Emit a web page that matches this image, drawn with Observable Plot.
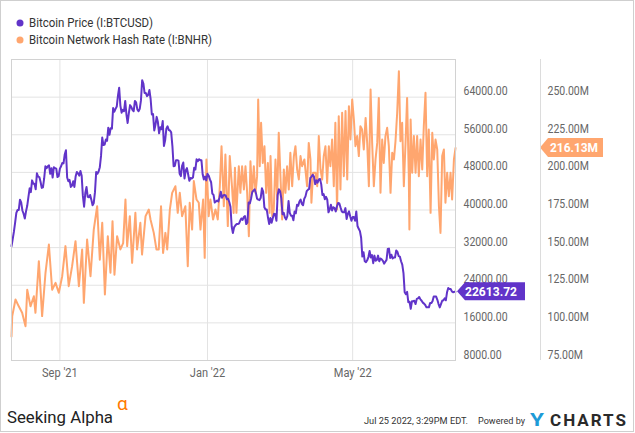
<!DOCTYPE html>
<html><head><meta charset="utf-8">
<script src="https://cdn.jsdelivr.net/npm/d3@7"></script>
<script src="https://cdn.jsdelivr.net/npm/@observablehq/plot@0.6"></script>
<style>
html,body{margin:0;padding:0;background:#fff;}
#chart{position:relative;width:635px;height:433px;overflow:hidden;}
</style>
</head><body><div id="chart"></div>
<script>
// ---- Bitcoin price (USD), daily closes, one array per month ----
const jul21=[32300,33800,35400,37300,39400,40000,40000,42200,41600];
const aug21=[39900,39200,38200,39700,40900,42800,44600,43800,46300,45600,45600,44400,47800,47100,47000,46000,44700,44800,46700,49300,48900,49300,49500,47700,48900,46900,49100,48900,48800,47000,47200];
const sep21=[48800,49300,50000,49900,51800,52700,46900,46100,46400,44900,45200,46100,44900,47100,48100,47800,47300,48300,47300,43000,40700,43600,44900,42800,42700,43200,42200,41000,41500,43800];
const oct21=[48100,47700,48200,49100,51500,55400,53800,53900,55000,54700,57500,56000,57400,57300,61700,60900,61500,62000,64300,66000,62200,60700,61300,61000,63200,60300,58500,60600,62300,61900,61300];
const nov21=[61000,63200,62900,61400,61000,61500,63300,67600,66900,64900,64900,64200,64500,65500,63600,60300,60400,56900,58100,59800,58700,56300,57600,57200,58900,53600,54800,57300,57800,57000];
const dec21=[56900,56500,53600,49300,49400,50600,50600,50500,47700,47200,49400,50100,46700,48400,48900,47600,46200,46800,46700,46900,49000,48600,50800,50400,50800,50600,50600,47600,46500,47100,46300];
const jan22=[47700,47300,46500,45900,43500,43200,41600,41800,42000,41800,42700,43900,42600,43100,43200,43100,42300,42400,41700,40700,36500,35100,36300,36700,37000,37000,37100,37700,38200,37900,38500];
const feb22=[38700,37000,37300,41600,41400,42400,43800,44100,44400,43600,42400,42200,42100,42600,44600,43900,40600,40100,40100,38400,37000,38300,37300,38300,39200,39100,37700,43200];
const mar22=[44400,44000,42500,39100,39400,38400,38000,38700,41900,39400,38800,38800,37800,39700,39300,41100,40900,41800,42200,41300,41000,42400,42900,44000,44300,44500,46800,47100,47500,47100,45500];
const apr22=[46300,45800,46500,46600,45500,43200,43400,42300,42800,42200,39500,40100,41100,39900,40600,40400,39700,40800,41500,41400,40500,39700,39500,39500,40400,38100,39200,39700,38600,37700];
const may22=[38500,38500,37700,39700,36600,36000,35500,34100,30100,31000,29100,28900,29300,30000,31300,29900,30400,28700,30300,29200,29400,30300,29100,29700,29500,29200,28600,29000,29400,31700,31800];
const jun22=[29800,30500,29700,29900,29900,31400,31100,30200,30100,29100,28400,26600,22500,22100,22600,20400,20500,19000,20600,20600,20700,20000,21100,21200,21500,21000,20700,20300,20100,19800];
const jul22=[19300,19300,19300,20200,20200,20600,21600,21600,21600,20900,20000,19300,20000,20700,20800,21200,20800,22500,23400,23200,23200,22700,22500,22600,22613.72];
const priceMonths=[["2021-07-23",jul21],["2021-08-01",aug21],["2021-09-01",sep21],["2021-10-01",oct21],["2021-11-01",nov21],["2021-12-01",dec21],["2022-01-01",jan22],["2022-02-01",feb22],["2022-03-01",mar22],["2022-04-01",apr22],["2022-05-01",may22],["2022-06-01",jun22],["2022-07-01",jul22]];

// ---- Bitcoin network hash rate (M), sampled: days after 2021-07-23, value ----
const hashStart="2021-07-23";
const hashDay=[0,0.6,3.3,6.0,8.8,11.6,13.0,15.7,18.5,19.8,22.6,25.3,28.1,30.9,33.6,36.4,39.1,41.9,44.6,47.3,50.1,52.9,55.7,58.4,59.8,62.5,65.3,68.0,70.8,73.0,75.0,77.2,79.6,81.8,83.5,85.1,87.3,90.0,92.3,94.2,
95.6,97.8,99.7,102.4,103.8,106.5,107.9,110.8,113.5,114.9,117.6,119.8,121.7,123.6,125.3,127.2,128.7,130.9,132.8,135.5,137.4,139.1,141.0,143.7,145.7,147.3,149.3,150.7,152.9,154.8,156.2,158.4,159.7,161.1,163.0,164.4,166.6,168.6,170.5,172.2,173.6,175.5,176.8,178.8,180.4,182.3,183.6,184.7,
185.9,187.9,189.2,190.6,192.1,193.4,194.8,196.2,197.5,198.9,200.3,201.7,203.0,203.9,205.2,206.3,207.7,209.1,210.5,211.9,213.3,214.1,215.5,216.8,218.2,219.6,220.9,222.3,223.7,225.1,226.4,227.8,229.2,230.5,232.0,233.4,234.7,236.1,237.5,238.9,240.2,242.1,244.3,245.7,247.1,247.9,249.3,251.3,252.7,254.0,255.4,256.8,258.1,259.5,260.9,262.3,263.6,265.0,266.4,267.7,269.1,270.5,271.9,273.3,274.7,
276.1,277.5,278.9,280.2,281.6,283.0,284.3,285.7,287.1,288.4,289.8,291.2,292.7,294.0,295.4,296.8,298.1,299.5,300.9,302.3,303.6,305.0,306.4,307.7,309.1,310.5,311.9,313.3,314.7,316.1,317.4,318.8,320.2,321.5,322.9,324.3,325.7,327.0,328.4,328.9,329.9,331.2,332.6,334.0,335.3,336.7,338.1,339.5,340.8,342.2,343.6,344.9,346.4,347.8,349.1,350.5,351.9,353.3,354.6,356.0,357.4,358.7,360.1,361.5,362.9,364.2,365.7,367];
const hashVal=[91,104.5,115.5,111,106.7,97.8,122,111,117.7,106.7,141,104.5,133.3,152,122,126.6,120,131,151,124.4,137.7,154.3,124.4,148.8,113.3,155.4,131,162,177.5,142,166.5,118.9,157.6,133.3,167.6,132,157.6,148.8,153,182,
151,170.9,139.9,173.1,148.8,166.5,145.4,170.9,175.3,168.7,159.8,148.8,148.8,177.5,146.5,159.8,148.8,175.3,186.4,190.8,173.1,186.4,170.9,177.5,137.7,179.8,162,194.2,182,179.8,162,182,143.2,208.6,170.9,182,168.7,175.3,168.7,190.8,217.4,177.5,211.9,164.3,210.8,190,173,203,
173.1,204.1,186.4,204.1,188.6,204.1,186.4,157.6,207.4,186.4,204.1,186.4,197.5,248.4,204.1,232.9,206.3,217.4,186.4,206.3,173.1,210.8,170.9,175.3,208.6,182,226.3,197.5,168.7,201.9,186.4,204.1,188.6,213,190.8,210.8,217.4,201.9,195.3,210.8,204.1,208.6,190.8,219.6,208.6,179.8,199.7,199.7,190.8,224.1,201.9,195.3,210.8,217.4,193,217.4,204.1,221.8,190.8,232.9,175.3,237.3,188.6,239.6,197.5,
240.7,195.3,244,221.8,248.4,235.1,217.4,224.1,210.8,230.7,228.5,215.2,236.2,219.6,190.8,255.1,219.6,190.8,208.6,219.6,249.5,186.4,221.8,206.3,224.1,229.6,217.4,186.4,213,208.6,220.7,239.6,267.2,220.7,232.9,190.8,219.6,249.5,197.5,162,235.1,199.7,224.1,199.7,224.1,197.5,221.8,201.9,230.7,252.9,197.5,228.5,173.1,226.3,208.6,221.8,215.2,177.5,159.8,210.8,215.2,179.8,199.7,184.2,199.7,182,208.6,216.13];

// ---- axes ----
const priceTicks=[8000,16000,24000,32000,40000,48000,56000,64000];
const priceDomain=[8000,72000];
const hashDomain=[75,275];
const xTickDates=["2021-09-01","2022-01-01","2022-05-01"];
const xDomain=["2021-07-23","2022-07-25"];
const seriesNames=["Bitcoin Price (I:BTCUSD)","Bitcoin Network Hash Rate (I:BNHR)"];

const purple="#6134C9", orange="#FFA66F";
const DAY=864e5;
const price=priceMonths.flatMap(([s,vals])=>vals.map((v,i)=>({date:new Date(Date.parse(s)+i*DAY),v})));
const origin=Date.parse(hashStart);
const hash=hashDay.map((d,i)=>({date:new Date(origin+d*DAY),v:hashVal[i]}));
const hashToPrice=d3.scaleLinear().domain(hashDomain).range(priceDomain);
const lastPrice=price[price.length-1].v, lastHash=hash[hash.length-1].v;

function flags(index, scales, values, dims){
  const g=d3.create("svg:g").attr("text-anchor","start");
  const xr=dims.width-dims.marginRight;
  const yP=scales.y(lastPrice), yH=scales.y(hashToPrice(lastHash));
  g.append("path").attr("d",`M${xr+2},${yP} L${xr+10},${yP-9} H${xr+70} V${yP+9} H${xr+10} Z`).attr("fill",purple);
  g.append("text").attr("x",xr+10).attr("y",yP+4.7).attr("fill","#fff").attr("font-weight","bold").attr("font-size",13)
    .attr("textLength",52).attr("lengthAdjust","spacingAndGlyphs").text(lastPrice.toFixed(2));
  g.append("path").attr("d",`M${xr+85},${yH} L${xr+93},${yH-9.5} H${xr+148} V${yH+9.5} H${xr+93} Z`).attr("fill",orange);
  g.append("text").attr("x",xr+95).attr("y",yH+4.7).attr("fill","#fff").attr("font-weight","bold").attr("font-size",13)
    .attr("textLength",48).attr("lengthAdjust","spacingAndGlyphs").text(lastHash.toFixed(2)+"M");
  return g.node();
}

const chart=Plot.plot({
  width:635,height:433,marginLeft:11,marginRight:180,marginTop:59,marginBottom:73,
  style:{fontFamily:"Roboto, sans-serif",fontSize:"12.5px",color:"#666",background:"transparent",overflow:"visible"},
  x:{type:"utc",domain:xDomain.map(d=>new Date(d))},
  y:{domain:priceDomain},
  marks:[
    Plot.gridY(priceTicks,{stroke:"#e3e3e3",strokeOpacity:1}),
    Plot.gridX(xTickDates.map(d=>new Date(d)),{stroke:"#e3e3e3",strokeOpacity:1}),
    Plot.line(hash,{x:"date",y:d=>hashToPrice(d.v),stroke:orange,strokeWidth:2}),
    Plot.line(price,{x:"date",y:"v",stroke:purple,strokeWidth:2}),
    Plot.frame({stroke:"#d2d2d2"}),
    Plot.axisY(priceTicks,{anchor:"right",tickSize:0,tickPadding:8,dy:-6,tickFormat:d=>d.toFixed(2),label:null}),
    Plot.axisY(priceTicks,{anchor:"right",tickSize:0,tickPadding:92,dy:-6,tickFormat:d=>hashToPrice.invert(d).toFixed(2)+"M",label:null}),
    Plot.axisX(xTickDates.map(d=>new Date(d)),{tickSize:0,tickPadding:8,tickFormat:d3.utcFormat("%b '%y"),label:null,fontSize:12}),
    flags
  ]
});
document.getElementById("chart").append(chart);

// compress axis text horizontally like the reference
d3.select(chart).selectAll("text").each(function(){
  const t=this.textContent; let k=null;
  if(/^\d+\.00M?$/.test(t)) k=0.84; else if(/'\d\d$/.test(t)) k=0.92;
  if(k){const L=this.getComputedTextLength(); this.setAttribute("textLength",L*k); this.setAttribute("lengthAdjust","spacingAndGlyphs");}
});

const svg=d3.select(chart);
const deco=svg.append("g").attr("text-anchor","start").attr("font-family","Roboto, sans-serif");
// separator between the two right axes
deco.append("line").attr("x1",540.5).attr("x2",540.5).attr("y1",59).attr("y2",360).attr("stroke","#dcdcdc");
// legend
[[purple,23,124],[orange,40,183]].forEach(([c,y,w],i)=>{
  deco.append("circle").attr("cx",20).attr("cy",y).attr("r",3.5).attr("fill",c);
  deco.append("text").attr("x",29).attr("y",y+4.3).attr("fill","#333").attr("font-size",12)
    .attr("textLength",w).attr("lengthAdjust","spacingAndGlyphs").text(seriesNames[i]);
});
// footer
deco.append("text").attr("x",7).attr("y",422.5).attr("fill","#222").attr("font-size",17)
  .attr("textLength",106).attr("lengthAdjust","spacingAndGlyphs").text("Seeking Alpha");
deco.append("text").attr("x",117).attr("y",410).attr("fill","#FF7A00").attr("font-size",19).text("α");
deco.append("text").attr("x",364).attr("y",424).attr("fill","#333").attr("font-size",9.5)
  .attr("textLength",104).attr("lengthAdjust","spacingAndGlyphs").text("Jul 25 2022, 3:29PM EDT.");
deco.append("text").attr("x",478).attr("y",424).attr("fill","#333").attr("font-size",9.5)
  .attr("textLength",47).attr("lengthAdjust","spacingAndGlyphs").text("Powered by");
deco.append("text").attr("x",530).attr("y",425.5).attr("fill","#1E9BD7").attr("font-size",18).attr("font-weight","bold")
  .attr("textLength",14).attr("lengthAdjust","spacingAndGlyphs").text("Y");
deco.append("text").attr("x",550).attr("y",425.5).attr("fill","#2a2a2a").attr("font-size",17).attr("font-weight","bold")
  .attr("textLength",76).attr("lengthAdjust","spacing").text("CHARTS");
// outer border
deco.append("rect").attr("x",0.5).attr("y",0.5).attr("width",633).attr("height",431).attr("fill","none").attr("stroke","#cfcfcf");
</script>
</body></html>
